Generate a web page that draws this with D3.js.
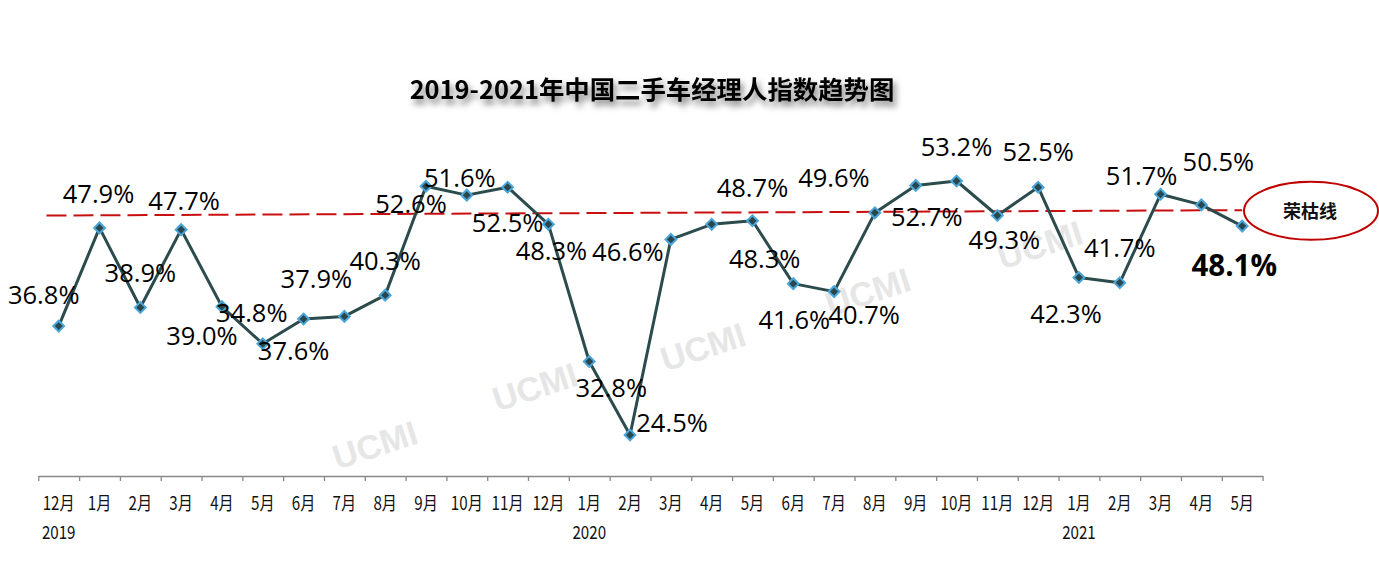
<!DOCTYPE html>
<html>
<head>
<meta charset="utf-8">
<script src="https://cdn.jsdelivr.net/npm/d3@7/dist/d3.min.js"></script>
<style>
  html, body { margin: 0; padding: 0; background: #fff; }
  svg { display: block; }
</style>
</head>
<body>
<svg id="chart" width="1379" height="565"></svg>
<script>
// ---------- data ----------
const title = "2019-2021年中国二手车经理人指数趋势图";
const months = ["12月","1月","2月","3月","4月","5月","6月","7月","8月","9月","10月","11月",
                "12月","1月","2月","3月","4月","5月","6月","7月","8月","9月","10月","11月",
                "12月","1月","2月","3月","4月","5月"];
const values = [36.8, 47.9, 38.9, 47.7, 39.0, 34.8, 37.6, 37.9, 40.3, 52.6, 51.6, 52.5,
                48.3, 32.8, 24.5, 46.6, 48.3, 48.7, 41.6, 40.7, 49.6, 52.7, 53.2, 49.3,
                52.5, 42.3, 41.7, 51.7, 50.5, 48.1];
const years = ["2019", "2020", "2021"];
const yearAt = [0, 13, 25];
const thresholdLabel = "荣枯线";
const thresholdStart = 49.3, thresholdEnd = 49.9;
const watermark = "UCMI";

// ---------- layout (label nudges, not data) ----------
const labelDx = [-15,-1,0,3,-20,-11,-10,-28,0,-15,-7,0,3,22,42,-43,53,0,1,30,-41,11,0,7,0,-13,0,-19,17,-8];
const labelDy = [-22,-25,-26,-20,38,-22,41,-28,-25,27,-8,45,36,35,-3,22,44,-24,45,32,-26,41,-25,34,-26,46,-26,-9,-34,50];

const svg = d3.select("#chart");
const n = values.length;

const xL = 38.3, xR = 1262.6;
const x = d3.scaleBand().domain(d3.range(n)).range([xL, xR]).padding(0);
const xEdge = d3.scaleLinear().domain([0, n]).range([xL, xR]);
const y = d3.scaleLinear().domain([0, 60]).range([651.8, 120.8]);
const cx = i => x(i) + x.bandwidth() / 2;

// defs: title shadow
const defs = svg.append("defs");
const f = defs.append("filter").attr("id", "tshadow")
  .attr("x", "-10%").attr("y", "-50%").attr("width", "120%").attr("height", "200%");
f.append("feDropShadow").attr("dx", 3).attr("dy", 5).attr("stdDeviation", 3)
  .attr("flood-color", "#000").attr("flood-opacity", 0.5);

// watermarks
const wmPos = [[375, 445], [535, 387], [703, 347], [868, 292], [1040, 245]];
svg.append("g").selectAll("text").data(wmPos).join("text")
  .attr("transform", d => `translate(${d[0]},${d[1]}) rotate(-18)`)
  .attr("text-anchor", "middle").attr("dy", "0.35em")
  .style("font-family", "'Liberation Sans', Arial, sans-serif")
  .style("font-weight", "bold").style("font-size", "34px")
  .style("fill", "#e6e6e6")
  .text(watermark);

// title
svg.append("text")
  .attr("x", 652).attr("y", 99)
  .attr("text-anchor", "middle")
  .attr("filter", "url(#tshadow)")
  .style("font-family", "'Noto Sans CJK SC', sans-serif")
  .style("font-weight", "bold").style("font-size", "25.4px")
  .style("fill", "#000")
  .text(title);

// x axis: boundary ticks
const axisG = svg.append("g").attr("transform", "translate(0,476)");
axisG.call(d3.axisBottom(xEdge).tickValues(d3.range(n + 1)).tickSize(5).tickSizeOuter(0).tickFormat(""));
axisG.select(".domain").attr("stroke", "#898989").attr("stroke-width", 1.3);
axisG.selectAll(".tick line").attr("stroke", "#898989").attr("stroke-width", 1.3);

// x axis labels (condensed look)
const labG = svg.append("g").attr("transform", "translate(0,476)");
labG.call(d3.axisBottom(x).tickSize(0).tickPadding(0).tickFormat(i => months[i]));
labG.select(".domain").remove();
labG.attr("font-size", null).attr("font-family", null);
labG.selectAll(".tick text")
  .attr("y", 34).attr("dy", 0)
  .attr("transform", "scale(0.82,1)")
  .style("font-family", "'Noto Sans CJK SC', sans-serif")
  .style("font-size", "18.5px").style("fill", "#111");

// year labels
svg.append("g").selectAll("text").data(years).join("text")
  .attr("transform", (d, i) => `translate(${cx(yearAt[i])},539) scale(0.82,1)`)
  .attr("text-anchor", "middle")
  .style("font-family", "'Noto Sans CJK SC', sans-serif")
  .style("font-size", "18.5px").style("fill", "#111")
  .text(d => d);

// threshold line
svg.append("line")
  .attr("x1", xEdge(0.2)).attr("y1", y(thresholdStart))
  .attr("x2", xEdge(n - 0.5)).attr("y2", y(thresholdEnd))
  .attr("stroke", "#c80f0f").attr("stroke-width", 2)
  .attr("stroke-dasharray", "20,7");

// threshold ellipse label
svg.append("ellipse")
  .attr("cx", 1311).attr("cy", 210.8).attr("rx", 67).attr("ry", 29)
  .attr("fill", "#fff").attr("stroke", "#c00000").attr("stroke-width", 2);
svg.append("text")
  .attr("x", 1310).attr("y", 217.5).attr("text-anchor", "middle")
  .style("font-family", "'Noto Sans CJK SC', sans-serif")
  .style("font-weight", "bold").style("font-size", "18px").style("fill", "#111")
  .text(thresholdLabel);

// line
const line = d3.line().x((d, i) => cx(i)).y(d => y(d));
svg.append("path").datum(values)
  .attr("d", line).attr("fill", "none")
  .attr("stroke", "#2c4b4d").attr("stroke-width", 3).attr("stroke-linejoin", "round");

// markers
svg.append("g").selectAll("path").data(values).join("path")
  .attr("transform", (d, i) => `translate(${cx(i)},${y(d)}) rotate(45)`)
  .attr("d", d3.symbol().type(d3.symbolSquare).size(58))
  .attr("fill", "#2a474e").attr("stroke", "#4aa5d8").attr("stroke-width", 2);

// data labels
svg.append("g").selectAll("text").data(values).join("text")
  .attr("x", (d, i) => cx(i) + labelDx[i])
  .attr("y", (d, i) => y(d) + labelDy[i])
  .attr("text-anchor", "middle")
  .style("font-family", "'Open Sans', 'Noto Sans', sans-serif")
  .style("font-size", (d, i) => i === n - 1 ? "29.5px" : "25.5px")
  .style("font-weight", (d, i) => i === n - 1 ? "bold" : "normal")
  .style("fill", "#000")
  .text(d => d.toFixed(1) + "%");
</script>
</body>
</html>
